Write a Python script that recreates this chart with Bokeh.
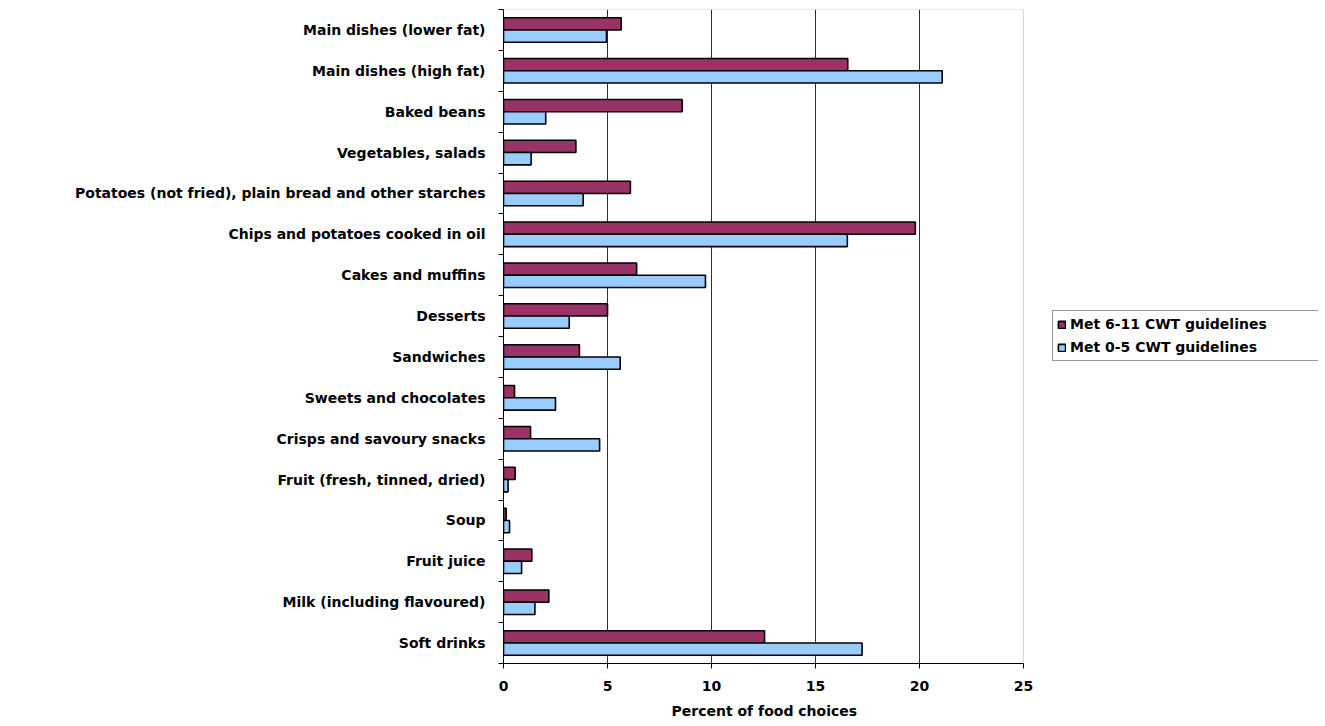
from bokeh.plotting import figure
from bokeh.models import (FactorRange, Range1d, LinearAxis, CategoricalAxis,
                          FixedTicker, Legend, LegendItem, ColumnDataSource,
                          BoxAnnotation, Title)
from bokeh.transform import dodge
from bokeh.embed import file_html
from bokeh.resources import INLINE

categories = [
    "Main dishes (lower fat)",
    "Main dishes (high fat)",
    "Baked beans",
    "Vegetables, salads",
    "Potatoes (not fried), plain bread and other starches",
    "Chips and potatoes cooked in oil",
    "Cakes and muffins",
    "Desserts",
    "Sandwiches",
    "Sweets and chocolates",
    "Crisps and savoury snacks",
    "Fruit (fresh, tinned, dried)",
    "Soup",
    "Fruit juice",
    "Milk (including flavoured)",
    "Soft drinks",
]
met_6_11 = [5.66, 16.55, 8.59, 3.48, 6.1, 19.8, 6.4, 5.0, 3.65, 0.53, 1.3, 0.56, 0.13, 1.36, 2.18, 12.55]
met_0_5 = [4.95, 21.09, 2.03, 1.33, 3.83, 16.53, 9.71, 3.16, 5.61, 2.5, 4.62, 0.22, 0.29, 0.87, 1.51, 17.24]
series_names = ["Met 6-11 CWT guidelines", "Met 0-5 CWT guidelines"]
x_ticks = [0, 5, 10, 15, 20, 25]
x_max = 25
x_title = "Percent of food choices"

FONT = "DejaVu Sans"
FS = "14px"

# layout (pixels)
W, H = 1323, 726
LEFT, RIGHT_PAD, TOP, BOTTOM = 503, 5, 9, 62
PLOT_W = 520                      # width of the 0..25 value area
FRAME_W = W - LEFT - RIGHT_PAD    # frame also holds the legend to the right

src = ColumnDataSource(dict(cat=categories, a=met_6_11, b=met_0_5))

p = figure(width=W, height=H,
           y_range=FactorRange(factors=categories[::-1]),
           x_range=Range1d(0, x_max * FRAME_W / PLOT_W),
           y_axis_location=None,
           output_backend="svg", toolbar_location=None,
           min_border_left=LEFT, min_border_right=RIGHT_PAD,
           min_border_top=TOP, min_border_bottom=BOTTOM)

p.outline_line_color = None

# plot-area border (grey) around the 0..25 region
p.add_layout(BoxAnnotation(left=0, right=x_max, fill_alpha=0, fill_color=None,
                           line_color="#808080", line_width=1, level="underlay"))

ra = p.hbar(y=dodge("cat", 0.15, range=p.y_range), right="a", left=0, height=0.3,
            source=src, fill_color="#993366", line_color="black", line_width=1.6)
rb = p.hbar(y=dodge("cat", -0.15, range=p.y_range), right="b", left=0, height=0.3,
            source=src, fill_color="#99CCFF", line_color="black", line_width=1.6)

# x axis
xa = p.xaxis[0]
xa.bounds = (0, x_max)
xa.ticker = FixedTicker(ticks=x_ticks)
xa.major_tick_out = 5
xa.major_tick_in = 0
xa.minor_tick_line_color = None
xa.axis_line_color = "black"
xa.major_tick_line_color = "black"
xa.major_label_text_font = FONT
xa.major_label_text_font_style = "bold"
xa.major_label_text_font_size = FS
xa.major_label_text_color = "black"
xa.major_label_standoff = 12

# axis title, centred under the 0..25 area (text ~184px wide)
p.add_layout(Title(text=x_title, align="left", offset=PLOT_W / 2 - 92,
                   text_font=FONT, text_font_style="bold", text_font_size=FS,
                   text_color="black", standoff=15), "below")

p.xgrid.ticker = FixedTicker(ticks=[5, 10, 15, 20])
p.xgrid.grid_line_color = "#303030"
p.xgrid.grid_line_width = 1
for g in p.ygrid:
    g.visible = False

# left: boundary ticks axis (nearest frame), then category labels
n = len(categories)
tick_axis = LinearAxis(ticker=FixedTicker(ticks=list(range(n + 1))),
                       major_label_overrides={i: "" for i in range(n + 1)},
                       major_tick_out=5, major_tick_in=0,
                       minor_tick_line_color=None,
                       axis_line_color="black", major_tick_line_color="black",
                       major_label_standoff=0)
p.add_layout(tick_axis, "left")

label_axis = CategoricalAxis(axis_line_color=None, major_tick_line_color=None,
                             major_tick_out=0, major_tick_in=0,
                             major_label_standoff=13,
                             major_label_text_font=FONT,
                             major_label_text_font_style="bold",
                             major_label_text_font_size=FS,
                             major_label_text_color="black")
p.add_layout(label_axis, "left")

legend = Legend(items=[LegendItem(label=series_names[0], renderers=[ra]),
                       LegendItem(label=series_names[1], renderers=[rb])],
                location=(1052 - LEFT, 302), orientation="vertical",
                border_line_color="#303030", border_line_width=1,
                background_fill_color="white", background_fill_alpha=1,
                label_text_font=FONT, label_text_font_style="bold",
                label_text_font_size=FS, label_text_color="black",
                label_width=245,
                glyph_height=9, glyph_width=9, label_height=18,
                label_standoff=4, spacing=5, padding=4, margin=0)
p.add_layout(legend, "center")

open("out.html", "w").write(file_html(p, INLINE))
